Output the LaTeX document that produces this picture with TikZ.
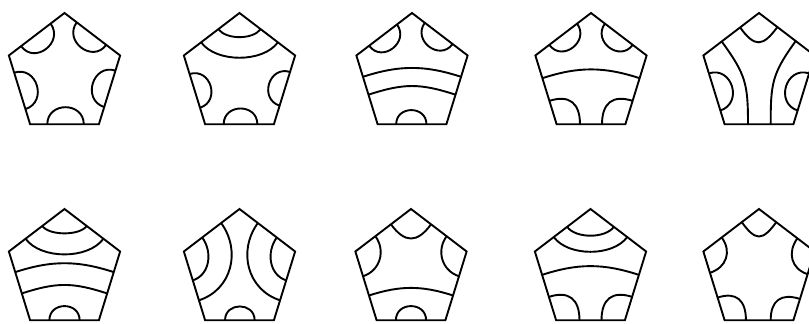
\documentclass[tikz,border=0pt]{standalone}
\usetikzlibrary{calc}
\tikzset{
  pentline/.style={line width=1.9pt, line join=miter},
  strand/.style={line width=1.9pt}
}
% \pent{name}{cx}{cy}{a}{b}: corners v0..v4, two points per side p1..p10
\newcommand\pent[5]{%
  \coordinate (#1c) at (#2,#3);
  \foreach \k in {0,...,4}{%
    \coordinate (#1v\k) at ($(#1c)+({90+72*\k}:58.5 and 61.5)$);
  }
  \foreach \k in {0,...,4}{%
    \pgfmathtruncatemacro\nk{mod(\k+1,5)}%
    \pgfmathtruncatemacro\pa{2*\k+1}%
    \pgfmathtruncatemacro\pb{2*\k+2}%
    \coordinate (#1p\pa) at ($(#1v\k)!#4!(#1v\nk)$);
    \coordinate (#1p\pb) at ($(#1v\k)!#5!(#1v\nk)$);
  }
  \draw[pentline] (#1v0) -- (#1v1) -- (#1v2) -- (#1v3) -- (#1v4) -- cycle;
}
% \movept{name}{point}{t}: slide one point along its side
\newcommand\movept[3]{%
  \pgfmathtruncatemacro\ek{(#2-1)/2}%
  \pgfmathtruncatemacro\nk{mod(\ek+1,5)}%
  \coordinate (#1p#2) at ($(#1v\ek)!#3!(#1v\nk)$);
}
% \strandto[looseness]{name}{from}{to}, leaving each side square
\newcommand\strandto[4][1]{%
  \pgfmathtruncatemacro\ea{(#3-1)/2}%
  \pgfmathtruncatemacro\eb{(#4-1)/2}%
  \pgfmathsetmacro\aout{306+72*\ea}%
  \pgfmathsetmacro\ain{306+72*\eb}%
  \draw[strand] (#2p#3) to[out=\aout, in=\ain, looseness=#1] (#2p#4);
}

\begin{document}
\begin{tikzpicture}[x=1pt,y=1pt]
  \useasboundingbox (0,0) rectangle (809,324);

  % top row
  \pent{A}{64.5}{249.5}{0.25}{0.78}
  \strandto[1.6]{A}{1}{2}
  \strandto[1.6]{A}{3}{4}
  \strandto[1.6]{A}{5}{6}
  \strandto[1.6]{A}{7}{8}
  \strandto[1.6]{A}{9}{10}

  \pent{B}{239.5}{249.5}{0.27}{0.76}
  \movept{B}{1}{0.38} \movept{B}{2}{0.69}
  \movept{B}{9}{0.31} \movept{B}{10}{0.62}
  \strandto[0.8]{B}{1}{10}
  \strandto[0.85]{B}{2}{9}
  \strandto[1.6]{B}{3}{4}
  \strandto[1.6]{B}{5}{6}
  \strandto[1.6]{B}{7}{8}

  \pent{C}{412}{249.5}{0.27}{0.77}
  \movept{C}{3}{0.31} \movept{C}{4}{0.57}
  \movept{C}{7}{0.43} \movept{C}{8}{0.69}
  \movept{C}{6}{0.71}
  \strandto[1.6]{C}{1}{2}
  \strandto[1.6]{C}{9}{10}
  \strandto[1.0]{C}{3}{8}
  \strandto[1.1]{C}{4}{7}
  \strandto[1.6]{C}{5}{6}

  \pent{D}{591}{249.5}{0.25}{0.75}
  \movept{D}{3}{0.33} \movept{D}{4}{0.66}
  \movept{D}{5}{0.34} \movept{D}{6}{0.66}
  \movept{D}{7}{0.34} \movept{D}{8}{0.67}
  \strandto[1.6]{D}{1}{2}
  \strandto[1.6]{D}{9}{10}
  \strandto[1.0]{D}{3}{8}
  \strandto[1.4]{D}{4}{5}
  \strandto[1.4]{D}{6}{7}

  \pent{E}{759}{249.5}{0.34}{0.67}
  \movept{E}{3}{0.26} \movept{E}{4}{0.8}
  \movept{E}{7}{0.2} \movept{E}{8}{0.74}
  \strandto[1.7]{E}{1}{10}
  \strandto[1.2]{E}{2}{5}
  \strandto[1.2]{E}{6}{9}
  \strandto[1.6]{E}{3}{4}
  \strandto[1.6]{E}{7}{8}

  % bottom row
  \pent{F}{64.5}{53.5}{0.3}{0.7}
  \movept{F}{1}{0.4} \movept{F}{10}{0.6}
  \movept{F}{4}{0.61} \movept{F}{7}{0.39}
  \movept{F}{5}{0.28} \movept{F}{6}{0.72}
  \strandto[0.7]{F}{1}{10}
  \strandto[0.85]{F}{2}{9}
  \strandto[1.0]{F}{3}{8}
  \strandto[1.1]{F}{4}{7}
  \strandto[1.6]{F}{5}{6}

  \pent{G}{239.5}{53.5}{0.33}{0.67}
  \movept{G}{3}{0.42} \movept{G}{4}{0.71}
  \movept{G}{7}{0.29} \movept{G}{8}{0.58}
  \movept{G}{5}{0.29} \movept{G}{6}{0.72}
  \strandto[1.1]{G}{1}{4}
  \strandto[1.05]{G}{2}{3}
  \strandto[1.6]{G}{5}{6}
  \strandto[1.1]{G}{7}{10}
  \strandto[1.05]{G}{8}{9}

  \pent{H}{411}{53.5}{0.36}{0.64}
  \movept{H}{5}{0.28} \movept{H}{6}{0.72}
  \strandto[1.5]{H}{1}{10}
  \strandto[1.1]{H}{2}{3}
  \strandto[1.0]{H}{4}{7}
  \strandto[1.6]{H}{5}{6}
  \strandto[1.1]{H}{8}{9}

  \pent{I}{590.5}{53.5}{0.34}{0.66}
  \movept{I}{1}{0.42} \movept{I}{10}{0.58}
  \strandto[0.8]{I}{1}{10}
  \strandto[0.85]{I}{2}{9}
  \strandto[1.0]{I}{3}{8}
  \strandto[1.4]{I}{4}{5}
  \strandto[1.4]{I}{6}{7}

  \pent{J}{759}{53.5}{0.31}{0.67}
  \movept{J}{10}{0.69}
  \strandto[1.75]{J}{1}{10}
  \strandto[1.2]{J}{2}{3}
  \strandto[1.4]{J}{4}{5}
  \strandto[1.4]{J}{6}{7}
  \strandto[1.2]{J}{8}{9}
\end{tikzpicture}
\end{document}
